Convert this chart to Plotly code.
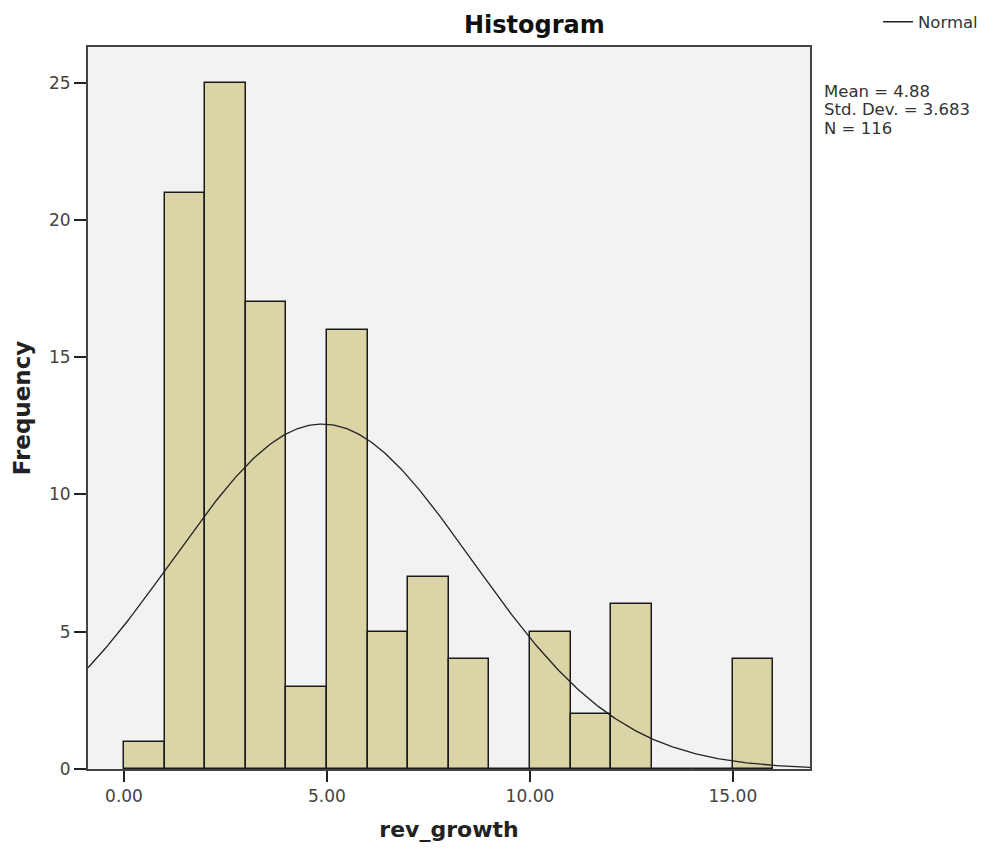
import numpy as np
import plotly.graph_objects as go

# Data
bin_left = [0, 1, 2, 3, 4, 5, 6, 7, 8, 9, 10, 11, 12, 13, 14, 15]
counts = [1, 21, 25, 17, 3, 16, 5, 7, 4, 0, 5, 2, 6, 0, 0, 4]
bin_width = 1.0
mean_val = 4.88
sd_val = 3.683
n_val = 116
x_ticks = [0, 5, 10, 15]
x_tick_labels = ["0.00", "5.00", "10.00", "15.00"]
y_ticks = [0, 5, 10, 15, 20, 25]
stats_lines = ["Mean = 4.88", "Std. Dev. = 3.683", "N = 116"]

x_range = [-0.887, 16.9]
y_range = [0, 26.3]

centers = [b + bin_width / 2 for b in bin_left]

xs = np.linspace(x_range[0], x_range[1], 400)
ys = n_val * bin_width / (sd_val * np.sqrt(2 * np.pi)) * np.exp(-0.5 * ((xs - mean_val) / sd_val) ** 2)

FONT = "DejaVu Sans"
DARK = "#222222"

fig = go.Figure()
fig.add_trace(go.Bar(
    x=centers, y=counts, width=bin_width,
    marker=dict(color="#DAD4A6", line=dict(color="#1a1a1a", width=1.5)),
    showlegend=False, hoverinfo="skip",
))
fig.add_trace(go.Scatter(
    x=xs, y=ys, mode="lines", name="Normal",
    line=dict(color=DARK, width=1.3),
))

annotations = [
    dict(text="<b>Histogram</b>", x=(534 - 88) / 722, y=1 + (47 - 25) / 722,
         xref="paper", yref="paper", yanchor="middle",
         showarrow=False, font=dict(size=24, color="#111111")),
]
for i, line in enumerate(stats_lines):
    annotations.append(dict(
        text=line, x=(822 - 88) / 722, y=1 - (92 + 18 * i - 47) / 722,
        xref="paper", yref="paper", xanchor="left", yanchor="middle",
        showarrow=False, font=dict(size=16.5, color="#333333")))

fig.update_layout(
    width=994, height=850,
    margin=dict(l=88, r=184, t=47, b=81, autoexpand=False),
    paper_bgcolor="white", plot_bgcolor="#F2F2F2",
    bargap=0,
    font=dict(family=FONT, color="#333333", size=15),
    legend=dict(xref="container", yref="container",
                x=878 / 994, y=1 - 22 / 850, xanchor="left", yanchor="middle",
                bgcolor="rgba(0,0,0,0)", font=dict(size=16.5, color="#333333"),
                itemwidth=30),
    annotations=annotations,
)

fig.update_xaxes(
    range=x_range, tickvals=x_ticks, ticktext=x_tick_labels,
    ticks="outside", ticklen=11, tickwidth=2, tickcolor=DARK,
    showline=True, linecolor="#444444", linewidth=2, mirror=True,
    showgrid=False, zeroline=False,
    title=dict(text="<b>rev_growth</b>", font=dict(size=22, color="#222222"), standoff=16),
    tickfont=dict(size=17, color="#444444"),
)
fig.update_yaxes(
    range=y_range, tickvals=y_ticks,
    ticks="outside", ticklen=12, tickwidth=2, tickcolor=DARK,
    showline=True, linecolor="#444444", linewidth=2, mirror=True,
    showgrid=False, zeroline=False,
    title=dict(text="<b>Frequency</b>", font=dict(size=23, color="#222222"), standoff=12),
    tickfont=dict(size=17, color="#444444"),
)

fig.write_html("out.html")
